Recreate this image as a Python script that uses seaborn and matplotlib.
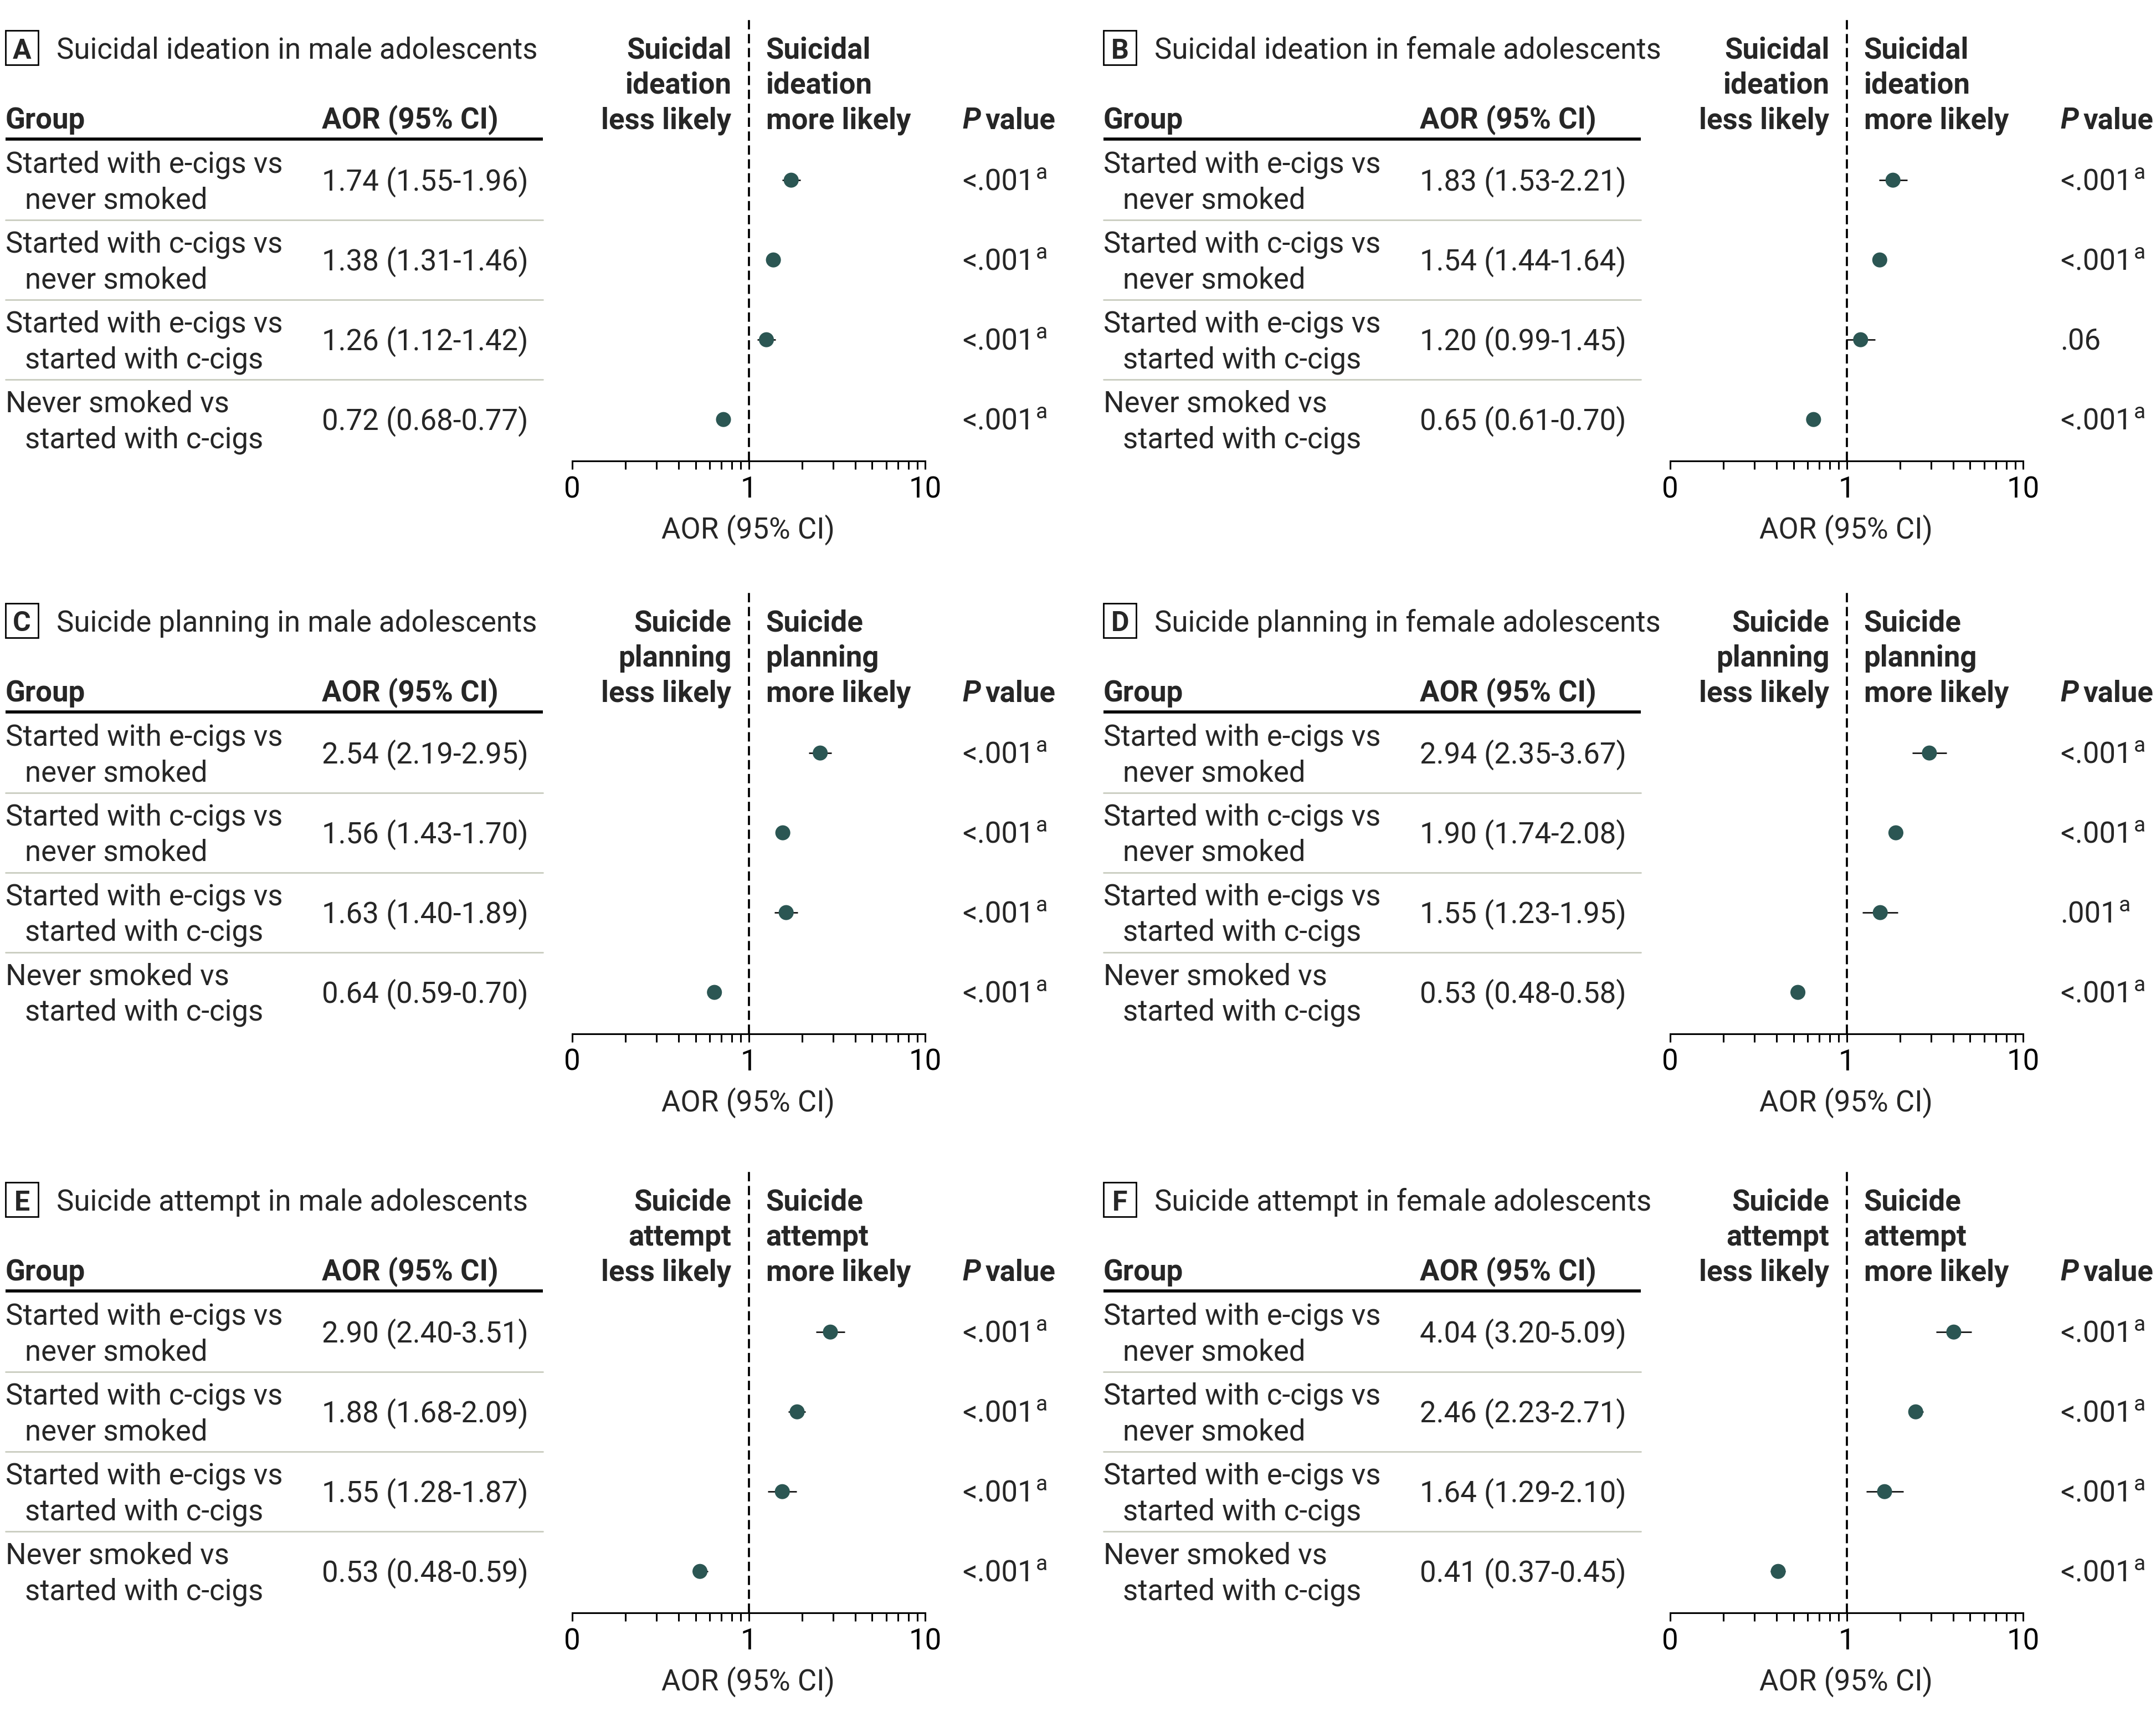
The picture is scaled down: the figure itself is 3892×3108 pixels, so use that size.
import matplotlib
matplotlib.use('Agg')
import matplotlib.pyplot as plt
import matplotlib.ticker as mticker
from matplotlib.patches import Rectangle
import numpy as np
import pandas as pd
import seaborn as sns

# data
panel_letters = ["A", "B", "C", "D", "E", "F"]
panel_titles = [
    "Suicidal ideation in male adolescents",
    "Suicidal ideation in female adolescents",
    "Suicide planning in male adolescents",
    "Suicide planning in female adolescents",
    "Suicide attempt in male adolescents",
    "Suicide attempt in female adolescents",
]
outcome_words = [
    ("Suicidal", "ideation"), ("Suicidal", "ideation"),
    ("Suicide", "planning"), ("Suicide", "planning"),
    ("Suicide", "attempt"), ("Suicide", "attempt"),
]
group_labels = [
    ("Started with e-cigs vs", "never smoked"),
    ("Started with c-cigs vs", "never smoked"),
    ("Started with e-cigs vs", "started with c-cigs"),
    ("Never smoked vs", "started with c-cigs"),
]
aor_values = [
    [1.74, 1.38, 1.26, 0.72],
    [1.83, 1.54, 1.20, 0.65],
    [2.54, 1.56, 1.63, 0.64],
    [2.94, 1.90, 1.55, 0.53],
    [2.90, 1.88, 1.55, 0.53],
    [4.04, 2.46, 1.64, 0.41],
]
ci_low = [
    [1.55, 1.31, 1.12, 0.68],
    [1.53, 1.44, 0.99, 0.61],
    [2.19, 1.43, 1.40, 0.59],
    [2.35, 1.74, 1.23, 0.48],
    [2.40, 1.68, 1.28, 0.48],
    [3.20, 2.23, 1.29, 0.37],
]
ci_high = [
    [1.96, 1.46, 1.42, 0.77],
    [2.21, 1.64, 1.45, 0.70],
    [2.95, 1.70, 1.89, 0.70],
    [3.67, 2.08, 1.95, 0.58],
    [3.51, 2.09, 1.87, 0.59],
    [5.09, 2.71, 2.10, 0.45],
]
p_text = [
    ["<.001", "<.001", "<.001", "<.001"],
    ["<.001", "<.001", ".06", "<.001"],
    ["<.001", "<.001", "<.001", "<.001"],
    ["<.001", "<.001", ".001", "<.001"],
    ["<.001", "<.001", "<.001", "<.001"],
    ["<.001", "<.001", "<.001", "<.001"],
]
p_flag = [
    [True, True, True, True],
    [True, True, False, True],
    [True, True, True, True],
    [True, True, True, True],
    [True, True, True, True],
    [True, True, True, True],
]
tick_vals = [0.1, 1, 10]
tick_text = ["0", "1", "10"]

sns.set_theme(style="white")
plt.rcParams['font.family'] = ['Roboto', 'DejaVu Sans']

FS = 19
MARKER = "#2b5653"
SEP = "#c9ccbf"
W, H = 1568, 1252  # layout units (image pixels at reduced scale)

fig = plt.figure(figsize=(19.46, 15.54), dpi=200)
ov = fig.add_axes([0, 0, 1, 1])
ov.set_xlim(0, W)
ov.set_ylim(H, 0)
ov.axis('off')

col_dx = [0, 798.5]
row_dy = [0, 416.5, 837.5]
row_y = [131, 189, 247, 305]
BL = 7.5  # baseline shift from visual centre

for k in range(6):
    r, c = divmod(k, 2)
    dx, dy = col_dx[c], row_dy[r]

    # panel letter + title
    ov.add_patch(Rectangle((4 + dx, 22 + dy), 24, 25, fill=False, lw=1.0, ec='black'))
    ov.text(16 + dx, 35 + dy + BL, panel_letters[k], ha='center', va='baseline',
            fontsize=FS - 1, fontweight='bold')
    ov.text(41 + dx, 35 + dy + BL, panel_titles[k], ha='left', va='baseline', fontsize=FS)

    # table header
    ov.text(4 + dx, 86 + dy + BL, "Group", fontsize=FS, fontweight='bold', va='baseline')
    ov.text(234 + dx, 86 + dy + BL, "AOR (95% CI)", fontsize=FS, fontweight='bold', va='baseline')
    ov.plot([4 + dx, 395 + dx], [101 + dy, 101 + dy], color='black', lw=2.0, solid_capstyle='butt')

    # direction labels
    w1, w2 = outcome_words[k]
    for j, (lt, rt) in enumerate([(w1, w1), (w2, w2), ("less likely", "more likely")]):
        yy = 35 + 25.5 * j + dy + BL
        ov.text(532 + dx, yy, lt, ha='right', va='baseline', fontsize=FS, fontweight='bold')
        ov.text(557 + dx, yy, rt, ha='left', va='baseline', fontsize=FS, fontweight='bold')

    # P value header
    ph = ov.text(700 + dx, 86 + dy + BL, "P", ha='left', va='baseline', fontsize=FS,
                 fontweight='bold', fontstyle='italic')
    ov.annotate("value", xy=(1, 0), xycoords=ph, xytext=(3, 0), textcoords='offset points',
                ha='left', va='bottom', fontsize=FS, fontweight='bold')

    # table rows
    for i in range(4):
        yc = row_y[i] + dy
        g1, g2 = group_labels[i]
        ov.text(4 + dx, yc - 13 + BL, g1, fontsize=FS, va='baseline')
        ov.text(18 + dx, yc + 13 + BL, g2, fontsize=FS, va='baseline')
        a, lo, hi = aor_values[k][i], ci_low[k][i], ci_high[k][i]
        ov.text(234 + dx, yc + BL, f"{a:.2f} ({lo:.2f}-{hi:.2f})", fontsize=FS, va='baseline')
        pt = ov.text(700 + dx, yc + BL, p_text[k][i], fontsize=FS, va='baseline')
        if p_flag[k][i]:
            ov.annotate("a", xy=(1, 1), xycoords=pt, xytext=(1, 3.5), textcoords='offset points',
                        ha='left', va='top', fontsize=FS - 5)
        if i < 3:
            ov.plot([4 + dx, 395 + dx], [yc + 29, yc + 29], color=SEP, lw=1.0)

    # x label
    ov.text(544 + dx, 384 + dy + BL, "AOR (95% CI)", ha='center', va='baseline', fontsize=FS)

    # forest plot axis
    ax = fig.add_axes([(416 + dx) / W, 1 - (335 + dy) / H, 257 / W, 322 / H])
    ax.patch.set_alpha(0)
    df = pd.DataFrame({'row': np.arange(4), 'aor': aor_values[k],
                       'lo': ci_low[k], 'hi': ci_high[k]})
    ax.axvline(1, color='black', lw=1.35, ls=(0, (4.5, 2.2)), zorder=1)
    ax.hlines(df['row'], df['lo'], df['hi'], color='black', lw=0.9, zorder=2)
    sns.scatterplot(data=df, x='aor', y='row', ax=ax, color=MARKER, s=95,
                    edgecolor='none', linewidth=0, zorder=3, legend=False)
    ax.set_xscale('log')
    ax.set_xlim(0.1, 10)
    ax.set_ylim(3.517, -2.034)
    ax.set_xticks(tick_vals)
    ax.set_xticklabels(tick_text)
    ax.xaxis.set_minor_locator(mticker.LogLocator(base=10, subs=np.arange(2, 10)))
    ax.xaxis.set_minor_formatter(mticker.NullFormatter())
    ax.tick_params(axis='x', which='both', bottom=True, direction='out', length=5.5,
                   width=1.1, color='black', labelsize=FS, pad=4, labelcolor='black')
    ax.set_yticks([])
    ax.set_xlabel('')
    ax.set_ylabel('')
    for s in ['top', 'right', 'left']:
        ax.spines[s].set_visible(False)
    ax.spines['bottom'].set_linewidth(1.1)
    ax.spines['bottom'].set_color('black')

fig.savefig('out.png', dpi=200, facecolor='white')
